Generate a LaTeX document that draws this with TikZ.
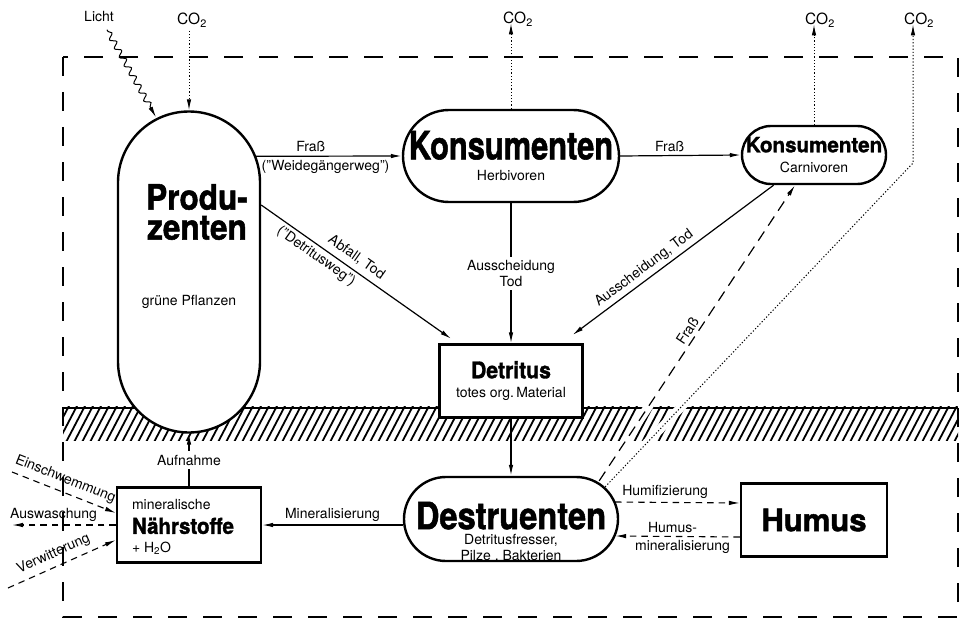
\documentclass[tikz,border=0pt]{standalone}
\usepackage{fontspec}
\setmainfont{TeX Gyre Heros}
\newfontfamily\heavyfont{TeX Gyre Heros}[BoldFeatures={FakeBold=1.5}]
\usepackage{graphicx}
\usetikzlibrary{arrows.meta,calc,backgrounds,decorations.pathmorphing}

% fette Schrift, waagerecht gestaucht
\newcommand{\heavy}[3]{\scalebox{#2}[1]{\fontsize{#1}{#1}\heavyfont\bfseries #3}}

\tikzset{
    pill/.style={draw, line width=2.4pt, fill=white, align=center, inner sep=0pt},
    box/.style={draw, line width=2.2pt, fill=white, align=center, inner sep=0pt},
    arr/.style={->, line width=1.2pt},
    dasharr/.style={->, line width=1.1pt, dash pattern=on 6.5pt off 5pt},
    longdash/.style={->, line width=1.2pt, dash pattern=on 11pt off 7pt},
    dotarr/.style={->, line width=1pt, dash pattern=on 1.2pt off 2pt},
    frame/.style={line width=2.2pt, dash pattern=on 19pt off 16pt},
    hatch/.style={line width=1.8pt},
    gas/.style={font=\fontsize{15.5}{17}\selectfont}
}

\begin{document}
\begin{tikzpicture}[x=1pt, y=-1pt, >={Latex[length=11pt,width=4.5pt]},
    font=\fontsize{14}{15.5}\selectfont]
    \useasboundingbox (0,0) rectangle (963,623);

    % Oekosystem-Grenze
    \draw[frame] (63,57) rectangle (958,617);

    % Kompartimente
    \node[pill, rounded corners=71pt, minimum width=142pt, minimum height=321pt] (prod) at (189,272) {};
    \node[align=center, font=\fontsize{35}{30}\heavyfont\bfseries] (prodname) at (197,212)
        {\scalebox{0.9}[1]{Produ-}\\\scalebox{0.9}[1]{zenten}};
    \node (prodsub) at (189,302) {grüne Pflanzen};
    \node[pill, rounded corners=46pt, minimum width=216pt, minimum height=92pt] (herb) at (511,156)
        {\heavy{39}{0.79}{Konsumenten}\\[6pt]Herbivoren};
    \node[pill, rounded corners=29pt, minimum width=144pt, minimum height=58pt] (carn) at (814,155)
        {\heavy{21}{0.98}{Konsumenten}\\[5pt]Carnivoren};
    \node[box, minimum width=143pt, minimum height=73pt] (detr) at (511,381)
        {\heavy{23}{0.92}{Detritus}\\[4pt]totes org.\,Material};
    \node[pill, rounded corners=42pt, minimum width=214pt, minimum height=84pt] (destr) at (511,519) {};
    \node[align=center] (destrname) at (511,532)
        {\heavy{37.5}{0.87}{Destruenten}\\Detritusfresser,\\Pilze , Bakterien};
    \node[box, align=left, minimum width=144pt, minimum height=75pt] (naehr) at (189,525)
        {\rule{0pt}{14pt}mineralische\\[7pt]\heavy{22}{0.93}{Nährstoffe}\kern12pt\\[3pt]+ H\textsubscript{2}O};
    \node[box, minimum width=146pt, minimum height=73pt] (humus) at (814,520) {\heavy{31}{1}{Humus}};

    % Beschriftungen oben
    \node (licht) at (99,17) {Licht};
    \node[gas] (co2p) at (192,20) {CO\textsubscript{2}};
    \node[gas] (co2h) at (518,19) {CO\textsubscript{2}};
    \node[gas] (co2c) at (820,20) {CO\textsubscript{2}};
    \node[gas] (co2d) at (919,20) {CO\textsubscript{2}};
    \coordinate (knick) at (913,163);
    \coordinate (einschw) at (12,472);
    \coordinate (ausw) at (12,525);
    \coordinate (verw) at (8,588);

    % Boden (schraffiert)
    \begin{scope}[on background layer]
        \clip (63,406) rectangle (958,440);
        \foreach \h in {40,48,...,990}
            \draw[hatch] (\h,446) -- ++(22,-42);
        \draw[hatch] (63,408) -- (958,408);
        \draw[white, line width=9pt] ($(destr.north east)+(-20,5)$) -- ($(carn.south)+(-19,0)$);
        \draw[white, line width=9pt] ($(destr.north east)+(-14,11)$) -- (knick);
    \end{scope}

    % Stofffluesse
    \draw[->, line width=1pt, decorate, decoration={snake, amplitude=2.8pt, segment length=10pt, pre length=2pt, post length=10pt}]
        ($(licht.south)+(8,4)$) -- ($(prod.north)+(-33,7)$);
    \draw[dotarr] (co2p.south -| prod.north) -- (prod.north);
    \draw[dotarr] (herb.north) -- (herb.north |- co2h.base);
    \draw[dotarr] (carn.north) -- (carn.north |- co2c.base);
    \draw[dotarr] ($(destr.north east)+(-14,11)$) -- (knick) -- (knick |- co2d.base);

    \draw[arr] ($(prod.north)+(66,46)$) -- (herb.west)
        node[above, pos=.38] {Fraß}
        node[below, pos=.48] {("Weidegängerweg")};
    \draw[arr] (herb.east) -- (carn.west) node[above, pos=.41] {Fraß};
    \draw[arr, shorten >=8pt] ($(prod.east)+(0,-67)$) -- (detr)
        node[sloped, above=2pt, pos=.45] {Abfall, Tod}
        node[sloped, below, pos=.31] {("Detritusweg")};
    \draw[arr] (herb) -- (detr) node[fill=white, align=center, midway] {Ausscheidung\\Tod};
    \draw[arr, shorten >=14pt] (carn) -- (detr) node[sloped, above, pos=.58] {Ausscheidung, Tod};
    \draw[longdash] ($(destr.north east)+(-20,5)$) -- ($(carn.south)+(-19,0)$)
        node[sloped, above, pos=.49] {Fraß};
    \draw[arr] (detr) -- (destr);
    \draw[arr] (destr.west |- naehr.east) -- (naehr.east) node[above, midway] {Mineralisierung};
    \draw[arr] (naehr) -- (prod) node[fill=white, midway] {Aufnahme};
    \draw[dasharr] ($(destr.east)+(-4,-17)$) -- ($(humus.west)+(0,-17)$)
        node[above, pos=.4] {Humifizierung};
    \draw[dasharr] ($(humus.west)+(0,17)$) -- ($(destr.east)+(-4,17)$)
        node[above, pos=.54] {Humus-}
        node[below, pos=.46] {mineralisierung};

    % Ein- und Austraege
    \draw[dasharr] (einschw) -- ($(naehr.west)+(0,-12)$) node[sloped, above=2pt, pos=.47] {Einschwemmung};
    \draw[dasharr] (naehr.west) -- (ausw) node[above, pos=.6] {Auswaschung};
    \draw[dasharr] (verw) -- ($(naehr.west)+(0,15)$) node[sloped, above=2pt, pos=.47] {Verwitterung};
\end{tikzpicture}
\end{document}
